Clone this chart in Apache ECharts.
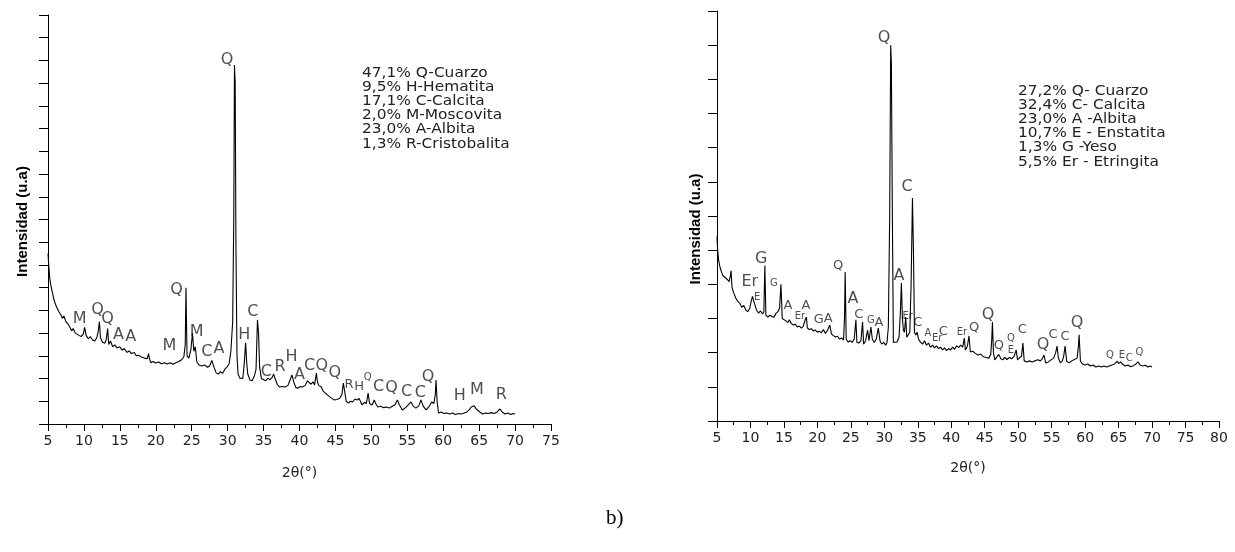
<!DOCTYPE html>
<html><head><meta charset="utf-8">
<script src="https://cdn.jsdelivr.net/npm/echarts@6/dist/echarts.min.js"></script>
<style>html,body{margin:0;padding:0;background:#fff}#c{width:1235px;height:552px}</style>
</head><body><div id="c"></div>
<script>
// ---- Left pattern (2θ, intensity a.u.) ----
const leftX = [5.0,5.1,5.25,5.4,5.6,5.8,6.0,6.2,6.5,6.8,7.0,7.2,7.5,7.8,8.0,8.3,8.5,8.8,9.0,9.3,9.6,9.9,10.1,10.3,10.6,10.9,11.2,11.5,11.8,12.0,12.15,12.3,12.6,12.9,13.1,13.3,13.45,13.7,14.0,14.3,14.6,15.0,15.3,15.6,16.0,16.3,16.6,17.0,17.3,17.6,18.0,18.4,18.8,19.0,19.1,19.3,19.6,20.0,20.4,20.8,21.2,21.6,22.0,22.4,22.8,23.2,23.6,23.9,24.1,24.2,24.35,24.6,24.9,25.1,25.3,25.5,25.7,26.0,26.4,26.8,27.2,27.5,27.8,28.1,28.4,28.7,29.0,29.3,29.6,29.9,30.2,30.45,30.7,30.85,30.95,31.05,31.15,31.3,31.45,31.7,31.9,32.1,32.3,32.5,32.65,32.8,33.1,33.4,33.7,33.95,34.15,34.3,34.45,34.7,35.0,35.3,35.6,35.9,36.2,36.4,36.6,36.9,37.2,37.6,38.0,38.4,38.7,38.95,39.2,39.5,39.8,40.1,40.4,40.8,41.1,41.3,41.6,41.9,42.1,42.35,42.5,42.7,43.0,43.3,43.6,44.0,44.4,44.8,45.2,45.6,45.9,46.1,46.25,46.5,46.8,47.1,47.4,47.7,48.0,48.3,48.7,49.0,49.3,49.55,49.75,50.1,50.4,50.6,50.9,51.3,51.7,52.1,52.5,52.9,53.3,53.6,53.9,54.3,54.6,55.0,55.5,55.8,56.2,56.6,56.9,57.2,57.6,58.0,58.4,58.7,58.9,59.0,59.15,59.35,59.7,60.1,60.5,60.9,61.3,61.7,62.1,62.5,62.9,63.3,63.6,63.9,64.1,64.3,64.6,64.8,65.1,65.5,65.9,66.3,66.7,67.1,67.5,67.9,68.2,68.6,69.0,69.4,69.7,70.0];
const leftY = [75,70,64,61,58,55,53,51.5,49.5,48,46.5,47.5,45,44,43.5,41,42,40,40.5,39,38.5,39.5,42.5,39,37.5,38.5,37,36.5,38,41,45,38,36,35.5,37,42,35,36.5,34,34.8,33.5,34,32.5,33.2,31.5,32.2,31,31.5,30,30.3,29.5,29,28.7,31,29,27,27.5,26.8,27.3,26.5,27,26.4,27,26.3,27,27.5,28.3,29.5,35,60,30,29,33,40,32,34,27.5,26,25.5,26,25,25.5,28,25,22.5,22,23,22.3,24,25,26.5,32,45,90,158,150,80,30,22,20.2,20.5,20,26,35.7,27,22,19.4,19,21,24,45.8,40,25,20,19.5,19,20.2,19.5,20.5,22,20,17.5,16.3,16.5,16.3,17,19.5,21.6,18.5,16,15.8,16.5,16.3,17,19,19.4,17.5,18.5,17.2,22.4,18.5,16.8,16.5,14.5,13.6,12.5,11.5,10.6,10.8,11.3,13,18,15,10,9.2,10,9.7,11,10.6,11.2,8.4,9.5,9,13.6,9,8.4,10.6,9,7.5,7.8,7.2,7.5,7,7.8,8.5,10.6,8.5,6.2,6.8,8,9.7,8,7,8,10.6,8,6.2,7.5,9.7,9,13,19.4,10,4.8,5.3,4.6,4.8,4.4,4.8,4.2,4.6,4.4,4.8,5.3,6.2,7.5,7,8,6.6,7.2,5.3,4.4,4.8,4.6,5,4.6,5.3,6.6,5.3,4.4,4.8,4.2,4.6,4.4];
// peak labels: [2θ, intensity, phase letter, size class]
const leftPeaks = [
 [29.9,160.2,'Q','L'],[9.4,46.2,'M','L'],[11.9,50.2,'Q','L'],[13.3,46.2,'Q','L'],[14.8,39.2,'A','L'],[16.5,38.3,'A','L'],
 [21.9,34.3,'M','L'],[22.9,59.0,'Q','L'],[25.7,40.5,'M','L'],[27.1,31.7,'C','L'],[28.8,33.0,'A','L'],[32.3,39.2,'H','L'],
 [33.5,49.3,'C','L'],[35.4,22.9,'C','L'],[37.3,25.1,'R','L'],[38.9,29.5,'H','L'],[40.0,21.6,'A','L'],[41.4,25.5,'C','L'],
 [43.1,25.5,'Q','L'],[44.9,22.4,'Q','L'],[46.9,17.2,'R','M'],[48.3,16.3,'H','M'],[49.5,20.7,'Q','S'],[51.0,16.3,'C','L'],
 [52.8,15.8,'Q','L'],[54.9,14.1,'C','L'],[56.8,13.6,'C','L'],[57.9,20.7,'Q','L'],[62.3,12.3,'H','L'],[64.7,15.0,'M','L'],[68.1,12.8,'R','L']
];
const leftPhases = ['47,1% Q-Cuarzo','9,5% H-Hematita','17,1% C-Calcita','2,0% M-Moscovita','23,0% A-Albita','1,3% R-Cristobalita'];

// ---- Right pattern ----
const rightX = [5.0,5.1,5.25,5.45,5.7,5.9,6.2,6.5,6.8,7.0,7.1,7.25,7.5,7.8,8.1,8.4,8.7,9.0,9.3,9.6,9.9,10.1,10.3,10.5,10.7,10.9,11.2,11.5,11.8,12.0,12.15,12.3,12.6,12.9,13.2,13.5,13.8,14.1,14.35,14.55,14.75,15.0,15.3,15.6,15.8,16.1,16.4,16.7,17.0,17.3,17.6,17.9,18.2,18.35,18.5,18.8,19.1,19.4,19.7,20.0,20.3,20.6,20.9,21.2,21.5,21.85,22.1,22.4,22.7,23.0,23.3,23.6,23.9,24.05,24.15,24.3,24.6,24.9,25.2,25.5,25.75,25.9,26.2,26.5,26.75,26.9,27.2,27.5,27.7,28.0,28.2,28.5,28.8,29.1,29.35,29.6,29.9,30.2,30.4,30.6,30.8,30.95,31.05,31.2,31.35,31.6,31.9,32.2,32.4,32.55,32.7,32.85,33.0,33.2,33.35,33.6,33.8,34.0,34.2,34.35,34.5,34.7,34.9,35.1,35.4,35.7,36.0,36.3,36.6,36.9,37.2,37.5,37.8,38.1,38.4,38.7,39.0,39.3,39.6,39.9,40.2,40.5,40.8,41.1,41.4,41.7,41.95,42.1,42.4,42.65,42.85,43.2,43.6,44.0,44.4,44.8,45.2,45.6,45.9,46.05,46.15,46.3,46.5,46.8,47.1,47.4,47.7,48.0,48.3,48.7,49.0,49.4,49.7,49.9,50.2,50.5,50.7,50.9,51.3,51.7,52.1,52.5,52.9,53.3,53.6,53.85,54.1,54.5,54.9,55.3,55.6,55.8,56.0,56.3,56.6,56.8,57.0,57.25,57.6,58.0,58.4,58.8,59.0,59.1,59.3,59.6,60.0,60.4,60.8,61.2,61.6,62.0,62.4,62.8,63.2,63.6,64.0,64.4,64.8,65.0,65.3,65.6,66.0,66.4,66.8,67.2,67.6,67.9,68.2,68.6,69.0,69.4,69.7,70.0];
const rightY = [54,50,47,45,43.5,42.5,42,41.5,40.8,42.5,44,39,37.5,36,35,34.5,33.3,33.8,32.5,32,33,35,36.5,35,34.8,32.5,31.6,32.2,31.3,32,45.5,31,30.4,31,30.6,30.4,31.5,32,33,40,30,29.6,29.3,28.8,29.6,28.5,28.1,28.3,27.5,27.8,27.2,27.8,29.8,30.4,27.2,26.8,27,26.4,26.6,26,26.3,25.8,26.8,25.6,26.5,28.1,25.5,25,24.6,24.8,24,24.3,23.7,30,43.6,24,23.1,23.5,23,24,29.6,23,22.8,23.5,29,22.5,23.5,26.6,23.5,27.5,24,23,24,27.2,23.5,22.5,23,22.2,23,27.5,60,110,105,60,23,22.8,23.1,24.5,32,40.4,30,26.6,26,30.4,24.5,24.6,26,40,65.3,50,26,25.2,26,24,23.1,22.5,23.5,22.2,22.8,21.6,22.2,21.4,22,21.2,21.6,20.8,21.4,20.6,21.2,20.8,21.6,21,22,21.5,22.2,21.6,24.3,20.8,21.8,24.9,20.2,20.4,19.8,19.3,19.6,18.8,18.6,18.4,19.5,24,29,20,17.9,18.7,19.5,18.2,17.9,18.6,18,18.6,18.2,19,20.8,17.9,18.5,19,22.8,17.6,17.3,17.6,17.3,17.6,17.9,17.6,18.2,19.3,17,17.3,17.9,18.4,20,21.9,18.5,17,17.6,19,21.9,17.5,17,17.6,18,18.4,22,25.2,17.5,16.7,16.4,16.7,16.1,16.4,15.8,16.1,15.8,16.1,15.8,16.1,16.4,16.7,17.5,16.8,17.3,16.6,16.1,16.4,15.9,16.2,16.7,17.3,16.4,16.1,16.3,15.8,16.1,15.8];
const rightPeaks = [
 [29.95,112.1,'Q','L'],[33.4,68.5,'C','L'],[11.6,47.4,'G','L'],[9.9,40.7,'Er','L'],[11.0,36.3,'E','S'],[13.5,40.4,'G','S'],
 [15.6,33.7,'A','M'],[17.4,30.7,'Er','S'],[18.3,33.9,'A','M'],[20.2,29.6,'G','M'],[21.6,30.1,'A','M'],[23.1,45.4,'Q','M'],
 [25.3,35.7,'A','L'],[26.2,31.0,'C','M'],[28.0,29.3,'G','S'],[29.2,28.7,'A','M'],[32.2,42.4,'A','L'],[33.5,30.7,'Er','S'],
 [35.0,28.7,'C','M'],[36.5,25.5,'A','S'],[37.9,24.3,'Er','S'],[38.8,26.3,'C','M'],[41.6,25.8,'Er','S'],[43.4,27.2,'Q','M'],
 [45.5,31.0,'Q','L'],[47.1,22.2,'Q','M'],[48.9,24.3,'Q','S'],[48.9,20.8,'E','S'],[50.6,26.6,'C','M'],[53.7,22.2,'Q','L'],
 [55.2,25.2,'C','M'],[57.0,24.6,'C','M'],[58.8,28.7,'Q','L'],[63.7,19.3,'Q','S'],[65.5,19.3,'E','S'],[66.6,18.4,'C','S'],[68.1,20.2,'Q','S']
];
const rightPhases = ['27,2% Q- Cuarzo','32,4% C- Calcita','23,0% A -Albita','10,7% E - Enstatita','1,3% G -Yeso','5,5% Er - Etringita'];
const caption = 'b)';

// ---- styling / build ----
const FONT = 'DejaVu Sans';
const sizeMap = {L:16, M:13, S:10};
const chart = echarts.init(document.getElementById('c'), null, {renderer:'canvas'});
const zip = (xs, ys) => xs.map((x,i)=>[x, ys[i]]);
const peakData = arr => arr.map(p => ({value:[p[0],p[1]], name:p[2], label:{fontSize:sizeMap[p[3]]}}));

function xAxisCfg(idx, max, gap){
  return {gridIndex:idx, type:'value', min:5, max:max, interval:5, name:'2\u03b8(\u00b0)', nameLocation:'middle', nameGap:gap,
    nameTextStyle:{fontFamily:FONT, fontSize:14, color:'#222'},
    axisLine:{show:true, onZero:false, lineStyle:{color:'#000', width:1}},
    axisTick:{show:true, inside:false, length:7, lineStyle:{color:'#000'}},
    minorTick:{show:true, splitNumber:2, length:4, lineStyle:{color:'#000'}},
    splitLine:{show:false},
    axisLabel:{margin:10, fontFamily:FONT, fontSize:14, color:'#222'}};
}
function yAxisCfg(idx, max, gap, pad){
  return {gridIndex:idx, type:'value', min:0, max:max, interval:10, name:'Intensidad (u.a)', nameLocation:'middle', nameGap:gap,
    nameTextStyle:{fontFamily:'Liberation Sans', fontWeight:'bold', fontSize:15, color:'#000', padding:pad},
    axisLine:{show:true, lineStyle:{color:'#000', width:1}},
    axisTick:{show:true, inside:false, length:9, lineStyle:{color:'#000'}},
    splitLine:{show:false}, axisLabel:{show:false}};
}
function phaseText(lines, left, top){
  return {type:'text', left:left, top:top, scaleX:1.14, style:{text:lines.join('\n'), font:'13.5px "DejaVu Sans"', lineHeight:14.2, fill:'#222'}};
}
const labelSeries = (idx, arr) => ({type:'scatter', xAxisIndex:idx, yAxisIndex:idx, symbolSize:1, itemStyle:{color:'rgba(0,0,0,0)'},
  data:peakData(arr), silent:true,
  label:{show:true, position:'inside', formatter:p=>p.name, color:'#222', fontFamily:FONT, align:'center', verticalAlign:'middle'}});

chart.setOption({
  animation:false,
  grid:[{left:48, top:15, width:503, height:409},{left:717, top:11, width:502, height:410}],
  xAxis:[xAxisCfg(0,75,42), xAxisCfg(1,80,40)],
  yAxis:[yAxisCfg(0,180,18,[0,4,0,0]), yAxisCfg(1,120,14,[0,26,0,0])],
  series:[
    {type:'line', xAxisIndex:0, yAxisIndex:0, data:zip(leftX,leftY), showSymbol:false, symbol:'none', lineStyle:{color:'#000', width:1.1}},
    {type:'line', xAxisIndex:1, yAxisIndex:1, data:zip(rightX,rightY), showSymbol:false, symbol:'none', lineStyle:{color:'#000', width:1.1}},
    labelSeries(0,leftPeaks), labelSeries(1,rightPeaks)
  ],
  graphic:[phaseText(leftPhases,362,66), phaseText(rightPhases,1018,84),
    {type:'text', left:606, top:508, style:{text:caption, font:'21px "Liberation Serif"', fill:'#000'}}]
});
</script></body></html>
